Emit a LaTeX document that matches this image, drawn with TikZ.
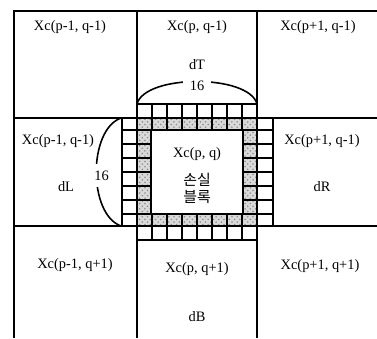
\documentclass[tikz,border=0pt]{standalone}
\usepackage{fontspec}
\setmainfont{Liberation Serif}
\newfontfamily\korfont{Noto Sans CJK KR}
\usetikzlibrary{patterns}

\begin{document}
\begin{tikzpicture}[x=0.02cm,y=-0.02cm,
    frame/.style={line width=0.9pt},
    cell/.style={line width=1pt},
    lost/.style={cell,preaction={fill=gray!30},pattern=crosshatch dots,pattern color=gray!90},
    lbl/.style={font=\fontsize{8.2}{10}\selectfont,inner sep=1pt},
    kor/.style={font=\korfont\fontsize{8.5}{10}\selectfont,inner sep=1pt}]
    \useasboundingbox (0,0) rectangle (377,338);
    \fill[white] (0,0) rectangle (377,338);
    \foreach \k in {0,...,7} {
        \draw[lost] ({137+15*\k},118) rectangle ({152+15*\k},130);
        \draw[lost] ({137+15*\k},214) rectangle ({152+15*\k},226);
        \draw[cell] ({137+15*\k},104) rectangle ({152+15*\k},118);
        \draw[cell] ({137+15*\k},226) rectangle ({152+15*\k},240);
    }
    \foreach \j in {0,...,5} {
        \draw[lost] (137,{130+14*\j}) rectangle (151,{144+14*\j});
        \draw[lost] (243,{130+14*\j}) rectangle (257,{144+14*\j});
    }
    \foreach \a/\b in {118/130,130/144,144/158,158/172,172/186,186/200,200/214,214/226} {
        \draw[cell] (122,\a) rectangle (137,\b);
        \draw[cell] (257,\a) rectangle (273,\b);
    }
    \draw[frame] (14,338)--(14,11)--(377,11);
    \draw[frame] (137,11)--(137,104) (137,240)--(137,338);
    \draw[frame] (257,11)--(257,104) (257,240)--(257,338);
    \draw[frame] (14,118)--(122,118) (273,118)--(377,118);
    \draw[frame] (14,226)--(122,226) (273,226)--(377,226);
    \coordinate (tl) at (137,104);
    \coordinate (tr) at (257,104);
    \coordinate (lt) at (121,118);
    \coordinate (lb) at (121,226);
    \draw[frame] (tl) .. controls +(8,-30) and +(-8,-30) .. node[lbl,fill=white,yshift=-2.5pt,inner xsep=4pt] (sixT) {16} (tr);
    \draw[frame] (lt) .. controls +(-33,12) and +(-33,-12) .. node[lbl,fill=white,xshift=3pt,yshift=-2pt,inner ysep=4pt] (sixL) {16} (lb);
    \node[lbl] (xtl) at (70,27) {Xc(p-1, q-1)};
    \node[lbl] (xtm) at (197,27) {Xc(p, q-1)};
    \node[lbl] (dT) at (197,65) {dT};
    \node[lbl] (xtr) at (318,27) {Xc(p+1, q-1)};
    \node[lbl] (xml) at (58,141) {Xc(p-1, q-1)};
    \node[lbl] (dL) at (66,187) {dL};
    \node[lbl] (xc) at (197,154) {Xc(p, q)};
    \node[kor] (lossa) at (197,180) {손실};
    \node[kor] (lossb) at (197,197) {블록};
    \node[lbl] (xmr) at (322,141) {Xc(p+1, q-1)};
    \node[lbl] (dR) at (322,187) {dR};
    \node[lbl] (xbl) at (75,265) {Xc(p-1, q+1)};
    \node[lbl] (xbm) at (197,269) {Xc(p, q+1)};
    \node[lbl] (dB) at (197,317) {dB};
    \node[lbl] (xbr) at (320,266) {Xc(p+1, q+1)};
\end{tikzpicture}
\end{document}
